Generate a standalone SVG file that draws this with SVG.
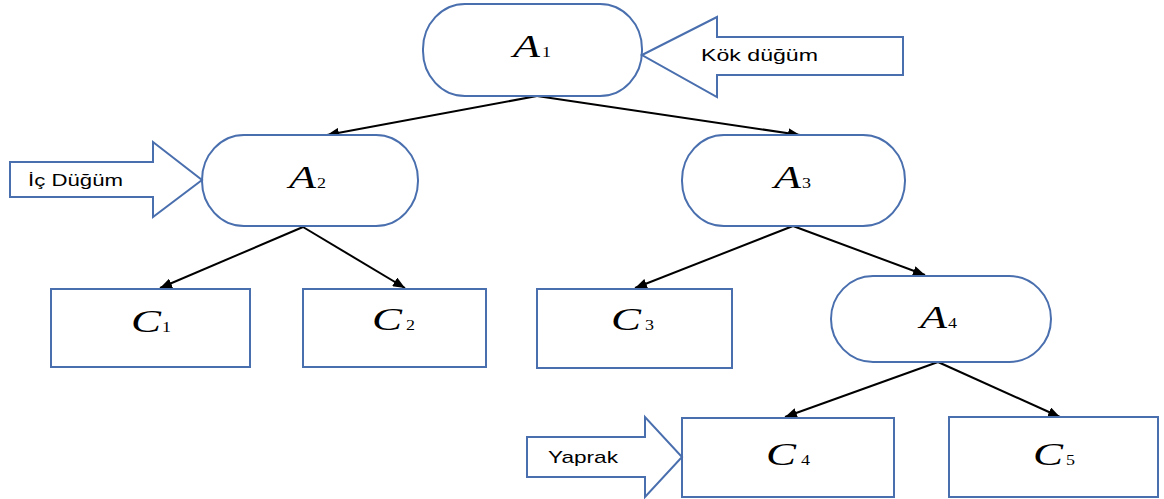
<svg xmlns="http://www.w3.org/2000/svg" width="1164" height="499" viewBox="0 0 1164 499">
<style>
.node{fill:#fff;stroke:#4A6FAE;stroke-width:2}
.callout{fill:#fff;stroke:#4A6FAE;stroke-width:2;stroke-linejoin:miter}
.edge{stroke:#000;stroke-width:2;fill:none;marker-end:url(#ah)}
.v{font-family:"Liberation Serif","Times New Roman",serif;font-style:italic;font-size:31px;fill:#000}
.s{font-family:"Liberation Serif","Times New Roman",serif;font-size:14px;fill:#000}
.lbl{font-family:"Liberation Sans",Arial,sans-serif;font-size:17px;fill:#000}
</style>
<defs>
<marker id="ah" viewBox="0 0 12 10" refX="12" refY="5" markerWidth="12" markerHeight="10" markerUnits="userSpaceOnUse" orient="auto">
<path d="M0,0 L12,5 L0,10 Z" fill="#000"/>
</marker>
</defs>
<rect width="1164" height="499" fill="#fff"/>
<g id="connectors">
<line class="edge" x1="537" y1="96" x2="327" y2="135"/>
<line class="edge" x1="537" y1="96" x2="800" y2="135"/>
<line class="edge" x1="303" y1="227" x2="160" y2="288"/>
<line class="edge" x1="303" y1="227" x2="405" y2="288"/>
<line class="edge" x1="793" y1="226" x2="635" y2="288"/>
<line class="edge" x1="793" y1="226" x2="925" y2="275"/>
<line class="edge" x1="938" y1="362" x2="785" y2="417"/>
<line class="edge" x1="938" y1="362" x2="1060" y2="417"/>
</g>
<g id="A1">
<rect class="node" x="423" y="4" width="219" height="92" rx="42" ry="45"/>
<text class="v" x="513" y="57" textLength="27" lengthAdjust="spacingAndGlyphs">A</text>
<text class="s" x="542" y="57" textLength="9" lengthAdjust="spacingAndGlyphs">1</text>
</g>
<g id="A2">
<rect class="node" x="202" y="135" width="216" height="91" rx="42" ry="45"/>
<text class="v" x="289" y="188" textLength="27" lengthAdjust="spacingAndGlyphs">A</text>
<text class="s" x="317" y="188" textLength="9" lengthAdjust="spacingAndGlyphs">2</text>
</g>
<g id="A3">
<rect class="node" x="682" y="135" width="223" height="91" rx="42" ry="45"/>
<text class="v" x="774" y="188" textLength="27" lengthAdjust="spacingAndGlyphs">A</text>
<text class="s" x="802" y="188" textLength="9" lengthAdjust="spacingAndGlyphs">3</text>
</g>
<g id="A4">
<rect class="node" x="831" y="276" width="220" height="86" rx="42" ry="43"/>
<text class="v" x="920" y="328" textLength="27" lengthAdjust="spacingAndGlyphs">A</text>
<text class="s" x="948" y="328" textLength="9" lengthAdjust="spacingAndGlyphs">4</text>
</g>
<g id="C1">
<rect class="node" x="51" y="289" width="199" height="78"/>
<text class="v" x="131" y="332" textLength="30" lengthAdjust="spacingAndGlyphs">C</text>
<text class="s" x="162" y="332" textLength="9" lengthAdjust="spacingAndGlyphs">1</text>
</g>
<g id="C2">
<rect class="node" x="303" y="289" width="183" height="78"/>
<text class="v" x="372" y="330" textLength="30" lengthAdjust="spacingAndGlyphs">C</text>
<text class="s" x="406" y="330" textLength="9" lengthAdjust="spacingAndGlyphs">2</text>
</g>
<g id="C3">
<rect class="node" x="537" y="289" width="195" height="79"/>
<text class="v" x="611" y="330" textLength="30" lengthAdjust="spacingAndGlyphs">C</text>
<text class="s" x="645" y="330" textLength="9" lengthAdjust="spacingAndGlyphs">3</text>
</g>
<g id="C4">
<rect class="node" x="682" y="418" width="212" height="79"/>
<text class="v" x="766" y="465" textLength="30" lengthAdjust="spacingAndGlyphs">C</text>
<text class="s" x="801" y="465" textLength="9" lengthAdjust="spacingAndGlyphs">4</text>
</g>
<g id="C5">
<rect class="node" x="949" y="417" width="209" height="80"/>
<text class="v" x="1033" y="465" textLength="30" lengthAdjust="spacingAndGlyphs">C</text>
<text class="s" x="1066" y="465" textLength="9" lengthAdjust="spacingAndGlyphs">5</text>
</g>
<g id="kok-dugum">
<polygon class="callout" points="642,55 717,17 717,37 903,37 903,75 717,75 717,97"/>
<text class="lbl" x="701" y="61" textLength="117" lengthAdjust="spacingAndGlyphs">Kök düğüm</text>
</g>
<g id="ic-dugum">
<polygon class="callout" points="10,162 153,162 153,142 202,180 153,217 153,197 10,197"/>
<text class="lbl" x="28" y="186" textLength="95" lengthAdjust="spacingAndGlyphs">İç Düğüm</text>
</g>
<g id="yaprak">
<polygon class="callout" points="527,437 645,437 645,417 682,457 645,497 645,477 527,477"/>
<text class="lbl" x="548" y="463" textLength="70" lengthAdjust="spacingAndGlyphs">Yaprak</text>
</g>
</svg>
